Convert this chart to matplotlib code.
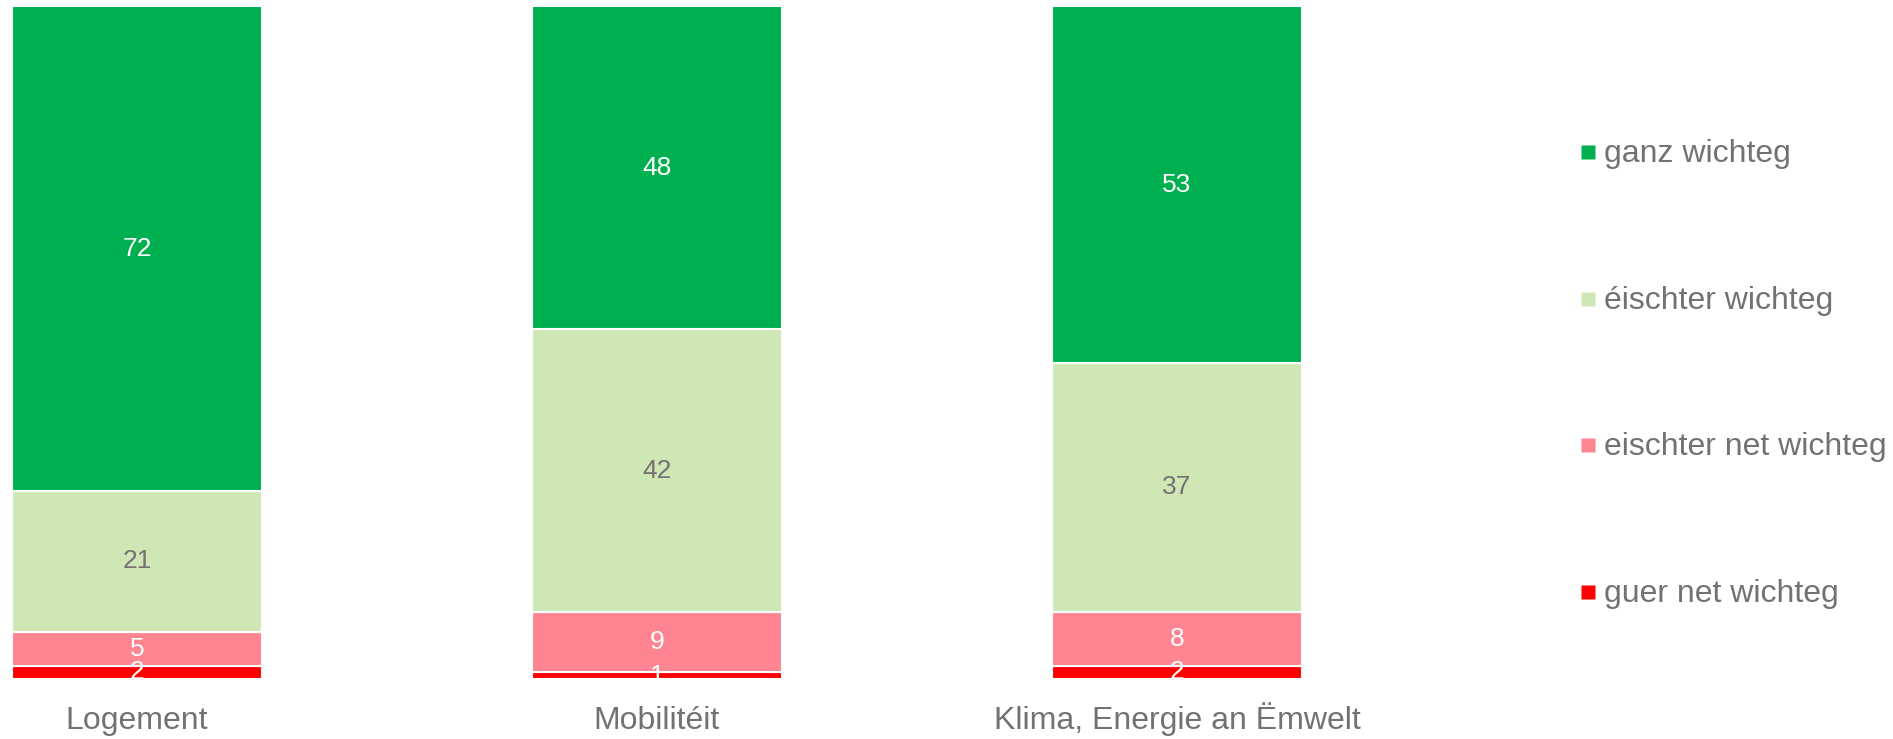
import matplotlib
matplotlib.use("Agg")
import matplotlib.pyplot as plt
from matplotlib.lines import Line2D
import numpy as np

plt.rcParams['font.family'] = ['Liberation Sans', 'DejaVu Sans']

categories = ["Logement", "Mobilitéit", "Klima, Energie an Ëmwelt"]
series_names = ["guer net wichteg", "eischter net wichteg", "éischter wichteg", "ganz wichteg"]
guer_net = [2, 1, 2]
eischter_net = [5, 9, 8]
eischter = [21, 42, 37]
ganz = [72, 48, 53]

series_values = [guer_net, eischter_net, eischter, ganz]
colors = ["#FF0000", "#FF8491", "#CFE7B5", "#00B050"]
label_colors = ["white", "white", "#767171", "white"]
text_gray = "#767171"

W, H = 1893, 739
fig = plt.figure(figsize=(W / 100, H / 100), dpi=100)
ax = fig.add_axes([12 / W, (H - 679) / H, (1302 - 12) / W, (679 - 6.5) / H])

x = np.arange(len(categories))
bar_w = 0.4808
bottom = np.zeros(len(categories))
for name, vals, col, lcol in zip(series_names, series_values, colors, label_colors):
    vals = np.array(vals, dtype=float)
    ax.bar(x, vals, bar_w, bottom=bottom, color=col, edgecolor="white",
           linewidth=1.5, label=name)
    for xi, v, b in zip(x, vals, bottom):
        ax.text(xi, b + v / 2, f"{int(v)}", ha="center", va="center",
                color=lcol, fontsize=19)
    bottom += vals

ax.set_xlim(-bar_w / 2, 2 + bar_w / 2)
ax.set_ylim(0, 100)
ax.set_xticks(x)
ax.set_xticklabels(categories, fontsize=23, color=text_gray)
for lbl in ax.get_xticklabels():
    lbl.set_verticalalignment("baseline")
ax.tick_params(axis="x", length=0, pad=36)
ax.set_yticks([])
for s in ax.spines.values():
    s.set_visible(False)

# square legend keys, top entry first
handles = [Line2D([], [], linestyle="none", marker="s", markersize=10.5,
                  markerfacecolor=c, markeredgecolor="none") for c in colors]
leg = fig.legend(handles[::-1], series_names[::-1], loc="center left",
                 bbox_to_anchor=(1581 / W, (H - 374) / H), frameon=False,
                 fontsize=23, labelcolor=text_gray, handlelength=0.46,
                 handleheight=0.46, handletextpad=0.25, labelspacing=3.66,
                 borderpad=0, borderaxespad=0)

fig.savefig("out.png", dpi=100)
